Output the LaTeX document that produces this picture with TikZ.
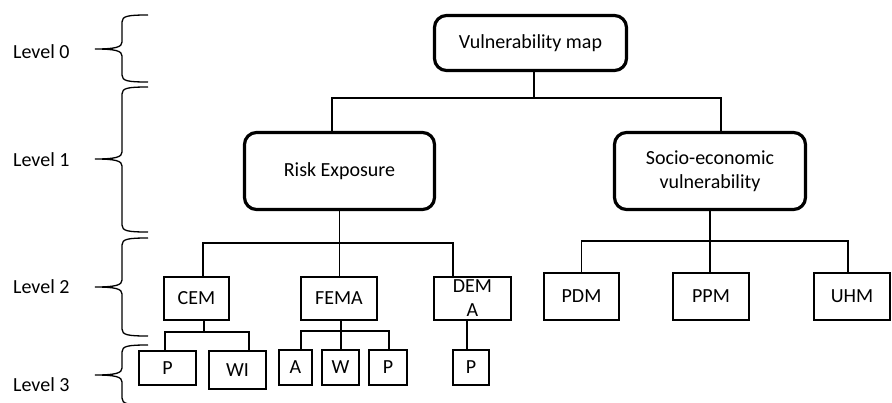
\documentclass[tikz,border=0pt]{standalone}
\usepackage{fontspec}
\setmainfont{Carlito}
\newcommand\mybrace[3]{%
  \draw[bracestyle] (148,#1) .. controls (128,#1) and (122,#1+1) .. (122,#1+7)
    -- (122,#2-7) .. controls (122,#2-2) and (116,#2) .. (95,#2)
    .. controls (116,#2) and (122,#2+2) .. (122,#2+7)
    -- (122,#3-7) .. controls (122,#3-1) and (128,#3) .. (148,#3);}
\begin{document}
\begin{tikzpicture}[x=1pt,y=-1pt,
  rbox/.style={draw, line width=3.2pt, rounded corners=12pt, align=center, inner sep=0pt, font=\fontsize{20}{24}\selectfont},
  sbox/.style={draw, line width=1.8pt, align=center, inner sep=0pt, font=\fontsize{20}{24}\selectfont},
  conn/.style={line width=1.2pt},
  bracestyle/.style={line width=1.3pt},
  lbl/.style={anchor=west, inner sep=0pt, font=\fontsize{20}{24}\selectfont}]
\useasboundingbox (0,0) rectangle (892,402);
\clip (0,0) rectangle (892,402);
\fill[white] (0,0) rectangle (892,402);

% level labels and braces
\node[lbl] (l0) at (13,52) {Level 0};
\node[lbl] (l1) at (13,160) {Level 1};
\node[lbl] (l2) at (13,287) {Level 2};
\node[lbl] (l3) at (13,385) {Level 3};
\mybrace{15}{49}{82}
\mybrace{87}{159}{232}
\mybrace{238}{287}{336}
\mybrace{345}{375}{405}

% level 0 and 1
\node[rbox, minimum width=192pt, minimum height=55pt] (vm) at (530.5,43) {Vulnerability map};
\node[rbox, minimum width=190pt, minimum height=77pt] (re) at (339.5,171) {Risk Exposure};
\node[rbox, minimum width=191pt, minimum height=77pt] (se) at (710,171) {Socio-economic\\vulnerability};

% level 2
\node[sbox, minimum width=65pt, minimum height=43pt] (cem) at (196.5,298.5) {CEM};
\node[sbox, minimum width=76pt, minimum height=43pt] (fema) at (339,298.5) {FEMA};
\node[sbox, minimum width=77pt, minimum height=43pt] (dema) at (472.5,298.5) {DEM\\A};
\node[sbox, minimum width=75pt, minimum height=47pt] (pdm) at (581.5,296.5) {PDM};
\node[sbox, minimum width=76pt, minimum height=47pt] (ppm) at (711,296.5) {PPM};
\node[sbox, minimum width=76pt, minimum height=47pt] (uhm) at (852,296.5) {UHM};

% level 3
\node[sbox, minimum width=57pt, minimum height=34pt] (p1) at (167.5,368) {P};
\node[sbox, minimum width=57pt, minimum height=38pt] (wi) at (237.5,370) {WI};
\node[sbox, minimum width=33pt, minimum height=35pt] (a) at (295.5,367.5) {A};
\node[sbox, minimum width=37pt, minimum height=35pt] (w) at (340.5,367.5) {W};
\node[sbox, minimum width=38pt, minimum height=35pt] (p2) at (388,367.5) {P};
\node[sbox, minimum width=36pt, minimum height=35pt] (p3) at (471,367.5) {P};

% connectors
\coordinate (t0) at (332,98);
\coordinate (t1) at (721,98);
\draw[conn] ([xshift=3.5pt]vm.south) -- ([xshift=3.5pt]vm.south |- t0);
\draw[conn] ([xshift=-7.5pt]re.north) |- (t1) -- ([xshift=11pt]se.north);

\coordinate (l2b) at (453,243);
\draw[conn] ([xshift=6.5pt]cem.north) |- (l2b) -- ([xshift=-19.5pt]dema.north);
\draw[conn] (re.south) -- (re.south |- fema.north);

\coordinate (r2) at (848,241);
\draw[conn] (pdm.north) |- (r2) -- (r2 |- uhm.north);
\draw[conn] (se.south) -- (se.south |- ppm.north);

\coordinate (c3) at (249,332);
\draw[conn] ([xshift=-2.5pt]p1.north) |- (c3) -- (c3 |- wi.north);
\draw[conn] ([xshift=7.5pt]cem.south) -- ([xshift=7.5pt]cem.south |- c3);

\coordinate (f3) at (389,331);
\draw[conn] ([xshift=5.5pt]a.north) |- (f3) -- (f3 |- p2.north);
\draw[conn] ([xshift=2pt]fema.south) -- ([xshift=2pt]fema.south |- w.north);

\draw[conn] ([xshift=-5.5pt]dema.south) -- ([xshift=-5.5pt]dema.south |- p3.north);
\end{tikzpicture}
\end{document}
